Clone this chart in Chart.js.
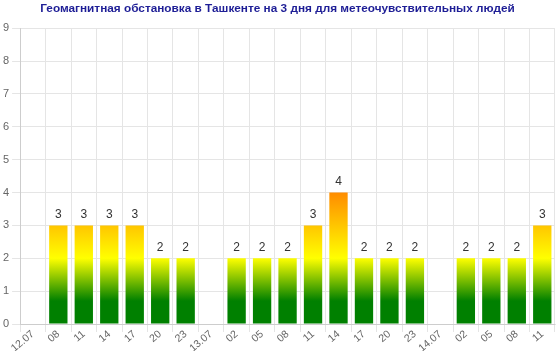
<!DOCTYPE html>
<html>
<head>
<meta charset="utf-8">
<script src="https://cdn.jsdelivr.net/npm/chart.js@4"></script>
<style>
  html, body { margin: 0; padding: 0; background: #fff; }
  #wrap { width: 560px; height: 351px; }
</style>
</head>
<body>
<div id="wrap"><canvas id="kp_chart"></canvas></div>
<script>
// 3-hour intervals over three days
const labels = ['12.07', '08', '11', '14', '17', '20', '23',
  '13.07', '02', '05', '08', '11', '14', '17', '20', '23',
  '14.07', '02', '05', '08', '11'];
const kpIndex = [null, 3, 3, 3, 3, 2, 2,
  null, 2, 2, 2, 3, 4, 2, 2, 2,
  null, 2, 2, 2, 3];
const yTicks = [0, 9];

// colour follows the value on the y axis, not the bar
function barGradient(context) {
  const chart = context.chart;
  const area = chart.chartArea;
  if (!area) return '#008000';
  const y = chart.scales.y;
  const g = chart.ctx.createLinearGradient(0, y.getPixelForValue(0), 0, y.getPixelForValue(9));
  const stop = v => v / 9;
  g.addColorStop(0, '#008000');
  g.addColorStop(stop(0.7), '#008000');
  g.addColorStop(stop(2), '#ffff00');
  g.addColorStop(stop(4), '#ff8c00');
  g.addColorStop(stop(6), '#ff0000');
  g.addColorStop(1, '#990000');
  return g;
}

const valueLabels = {
  id: 'valueLabels',
  afterDatasetsDraw(chart) {
    const ctx = chart.ctx;
    const meta = chart.getDatasetMeta(0);
    ctx.save();
    ctx.font = '12px "Liberation Sans", Arial, sans-serif';
    ctx.fillStyle = '#333';
    ctx.textAlign = 'center';
    ctx.textBaseline = 'bottom';
    meta.data.forEach((bar, i) => {
      const v = kpIndex[i];
      if (v === null) return;
      ctx.fillText(v, bar.x, bar.y - 5);
    });
    ctx.restore();
  }
};

const ctx = document.getElementById('kp_chart');
new Chart(ctx, {
  type: 'bar',
  data: {
    labels: labels,
    datasets: [{
      data: kpIndex,
      backgroundColor: barGradient,
      borderWidth: 0
    }]
  },
  options: {
    responsive: true,
    maintainAspectRatio: false,
    animation: false,
    layout: { padding: { right: 5, top: 0 } },
    plugins: {
      legend: { display: false },
      tooltip: { enabled: false },
      title: {
        display: true,
        text: 'Геомагнитная обстановка в Ташкенте на 3 дня для метеочувствительных людей',
        color: '#1e1e96',
        font: { family: '"Liberation Sans", Arial, sans-serif', size: 11.8, weight: 'bold' },
        padding: { top: 2, bottom: 12 }
      }
    },
    scales: {
      x: {
        grid: { color: '#e5e5e5', offset: true, tickLength: 8 },
        afterFit(scale) { scale.height = 27; },
        ticks: {
          color: '#666',
          font: { family: '"Liberation Sans", Arial, sans-serif', size: 10.5 },
          minRotation: 40, maxRotation: 40,
          padding: -4,
          autoSkip: false
        }
      },
      y: {
        min: yTicks[0],
        max: yTicks[1],
        grid: { color: '#e5e5e5' },
        ticks: {
          stepSize: 1,
          color: '#666',
          font: { family: '"Liberation Sans", Arial, sans-serif', size: 11 }
        }
      }
    }
  },
  plugins: [valueLabels]
});
</script>
</body>
</html>
